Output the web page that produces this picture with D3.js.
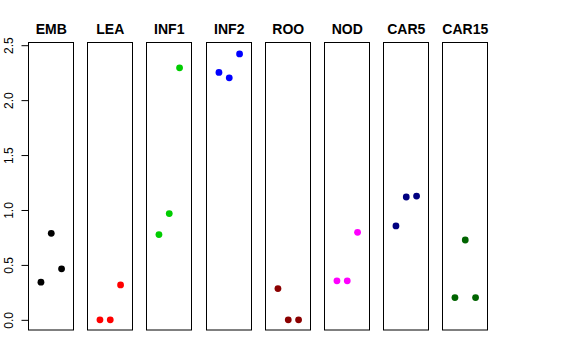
<!DOCTYPE html>
<html>
<head>
<meta charset="utf-8">
<script src="https://cdn.jsdelivr.net/npm/d3@7"></script>
<style>
  body { margin: 0; background: #fff; }
  svg { display: block; font-family: "Liberation Sans", Arial, sans-serif; }
</style>
</head>
<body>
<div id="chart"></div>
<script>
// tissues (one panel each)
const tissues = ['EMB', 'LEA', 'INF1', 'INF2', 'ROO', 'NOD', 'CAR5', 'CAR15'];
// three replicates per tissue
const replicates = [1, 2, 3];
const values = [
    [0.343, 0.788, 0.464],
    [0.0, 0.0, 0.318],
    [0.776, 0.967, 2.294],
    [2.252, 2.203, 2.421],
    [0.285, 0.0, 0.0],
    [0.355, 0.355, 0.797],
    [0.855, 1.118, 1.127],
    [0.203, 0.727, 0.203],
];
const yTicks = [0, 0.5, 1, 1.5, 2, 2.5];

const colors = ['#000000', '#ff0000', '#00cd00', '#0000ff', '#8b0000', '#ff00ff', '#000080', '#006400'];

const width = 576;
const height = 360;
const plotTop = 43;
const plotBottom = 330.5;

const svg = d3.select('#chart')
    .append('svg')
    .attr('width', width)
    .attr('height', height);

// panel positions
const xBand = d3.scaleBand()
    .domain(tissues)
    .range([29, 488])
    .paddingInner(0.248)
    .paddingOuter(0);

// shared y scale (R-style 4% expansion)
const yScale = d3.scaleLinear()
    .domain([-0.097, 2.52])
    .range([plotBottom, plotTop]);

// x within a panel, replicate 1..3
const xInner = d3.scaleLinear()
    .domain([-0.16, 4.16])
    .range([0, xBand.bandwidth()]);

// y axis on the left of the first panel
const yAxis = d3.axisLeft(yScale)
    .tickValues(yTicks)
    .tickFormat(d3.format('.1f'))
    .tickSize(7)
    .tickSizeOuter(0);

const gAxis = svg.append('g')
    .attr('transform', `translate(${xBand(tissues[0]) - 0.5}, 0)`)
    .call(yAxis);
gAxis.select('.domain')
    .attr('d', `M0,${yScale(2.5)}V${yScale(0)}`)
    .attr('stroke', '#000');
gAxis.selectAll('.tick line').attr('stroke', '#000');
gAxis.selectAll('.tick text')
    .attr('font-size', 12)
    .attr('fill', '#000')
    .attr('text-anchor', 'middle')
    .attr('transform', 'rotate(-90)')
    .attr('x', 0)
    .attr('y', -20)
    .attr('dy', '0.35em')
    .attr('dx', 0)
    .each(function () {
        // rotate around the tick position
        const t = d3.select(this);
        t.attr('transform', 'rotate(-90)').attr('x', 0).attr('y', -19.5);
    });

// panels
const panels = svg.selectAll('g.panel')
    .data(tissues)
    .join('g')
    .attr('class', 'panel')
    .attr('transform', (d) => `translate(${Math.round(xBand(d))}, 0)`);

panels.append('rect')
    .attr('x', -0.5)
    .attr('y', plotTop - 0.5)
    .attr('width', Math.round(xBand.bandwidth()))
    .attr('height', plotBottom - plotTop)
    .attr('fill', 'none')
    .attr('stroke', '#000')
    .attr('stroke-width', 1);

panels.append('text')
    .attr('x', xBand.bandwidth() / 2)
    .attr('y', 34)
    .attr('text-anchor', 'middle')
    .attr('font-size', 14)
    .attr('font-weight', 'bold')
    .text((d) => d);

panels.selectAll('circle')
    .data((d, i) => values[i].map((v, j) => ({ rep: replicates[j], value: v, color: colors[i] })))
    .join('circle')
    .attr('cx', (d) => xInner(d.rep))
    .attr('cy', (d) => yScale(d.value))
    .attr('r', 3.4)
    .attr('fill', (d) => d.color);
</script>
</body>
</html>
